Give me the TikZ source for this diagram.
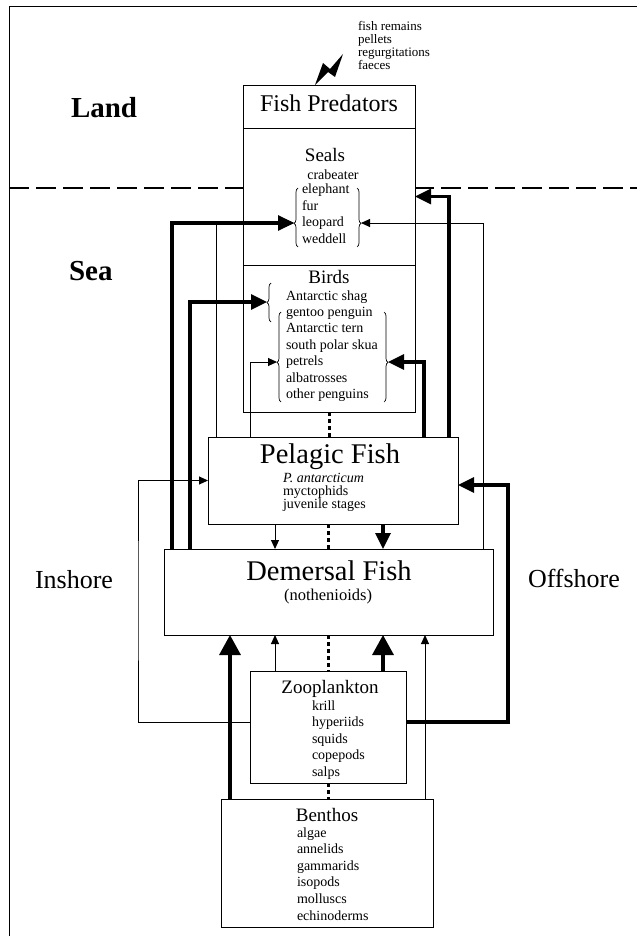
\documentclass[tikz,border=0pt]{standalone}
\usepackage{fontspec}
\setmainfont{Liberation Serif}
\usetikzlibrary{arrows.meta,decorations.pathreplacing,positioning}

\tikzset{
  box/.style={draw, line width=0.9pt, fill=white, inner sep=0pt, outer sep=0pt},
  txt/.style={inner sep=0pt, outer sep=0pt},
  zonetxt/.style={txt, font=\fontsize{29}{32}\selectfont\bfseries},
  sidetxt/.style={txt, font=\fontsize{26}{28}\selectfont},
  bigtitle/.style={txt, font=\fontsize{28.5}{30}\selectfont},
  subtitle/.style={txt, font=\fontsize{19}{21}\selectfont},
  itemtxt/.style={txt, font=\fontsize{14}{16}\selectfont},
  thinflow/.style={line width=1pt, -{Triangle[length=9pt,width=8pt]}},
  thickflow/.style={line width=3.3pt, -{Triangle[length=16pt,width=15pt]}},
  bigflow/.style={line width=3.4pt, -{Triangle[length=20pt,width=21pt]}},
  grp/.style={decorate, decoration={brace, amplitude=4pt, aspect=#1}, line width=0.7pt},
  grp/.default=0.5,
  dotlink/.style={line width=3pt, dash pattern=on 4pt off 3pt},
  shoreline/.style={line width=2pt, dash pattern=on 20pt off 7pt}
}

\begin{document}
\begin{tikzpicture}[x=1pt,y=-1pt]
\useasboundingbox (0,0) rectangle (637,936);

% frame and shore line
\draw[line width=1pt] (9,936) -- (9,7) -- (637,7);
\draw[shoreline] (9,188) -- (637,188);

% compartments
\node[box, anchor=north west, minimum width=172pt, minimum height=43pt] (pred) at (243,85) {};
\node[box, below=0pt of pred, minimum width=172pt, minimum height=137pt] (seals) {};
\node[box, below=0pt of seals, minimum width=172pt, minimum height=147pt] (birds) {};
\node[box, anchor=north west, minimum width=250pt, minimum height=87pt] (pelagic) at (208,437) {};
\node[box, anchor=north west, minimum width=329pt, minimum height=86pt] (demersal) at (164,549) {};
\node[box, anchor=north west, minimum width=156pt, minimum height=112pt] (zoo) at (250,671) {};
\node[box, anchor=north west, minimum width=212pt, minimum height=128pt] (benthos) at (221,799) {};

% dotted links
\draw[dotlink] (birds.south) -- (birds.south |- pelagic.north);
\draw[dotlink] (demersal.north |- pelagic.south) -- (demersal.north);
\draw[dotlink] (demersal.south) -- (demersal.south |- zoo.north);
\draw[dotlink] (zoo.south) -- (zoo.south |- benthos.north);

% zone labels
\node[zonetxt, anchor=base west] (land) at (71,118) {Land};
\node[zonetxt, anchor=base west] (sea) at (69,280) {Sea};
\node[sidetxt, anchor=base west] (inshoretxt) at (35,588) {Inshore};
\node[sidetxt, anchor=base west] (offshoretxt) at (528,587) {Offshore};

% predators
\node[txt, font=\fontsize{24}{26}\selectfont, anchor=base] (predtxt) at (329,112) {Fish Predators};
\fill (315,85) -- (323,63) -- (330,69) -- (343,54) -- (335,77) -- (328,72) -- cycle;
\foreach \s [count=\i] in {fish remains,pellets,regurgitations,faeces}
  \node[txt, font=\fontsize{13}{14}\selectfont, anchor=base west] (rem\i) at (358,{17.8+12.9*\i}) {\s};

\node[subtitle, anchor=base] (sealstxt) at (325,162) {Seals};
\node[itemtxt, anchor=base] (crab) at (333,179) {crabeater};
\foreach \s [count=\i] in {elephant,fur,leopard,weddell}
  \node[itemtxt, anchor=base west] (seal\i) at (302,{177+16.5*\i}) {\s};
\draw[grp=0.4] (298,247) -- (298,188);
\draw[grp=0.6] (357,188) -- (357,247);
\coordinate (sealsL) at (294,223);
\coordinate (sealsR) at (361,223);

\node[subtitle, anchor=base] (birdstxt) at (329,283) {Birds};
\foreach \s [count=\i] in {Antarctic shag,gentoo penguin,Antarctic tern,south polar skua,petrels,albatrosses,other penguins}
  \node[itemtxt, anchor=base west] (bird\i) at (286,{283.6+16.4*\i}) {\s};
\draw[grp=0.5] (271,322) -- (271,283);
\draw[grp=0.44] (281,402) -- (281,312);
\draw[grp=0.56] (384,312) -- (384,402);
\coordinate (shagL) at (267,302);
\coordinate (birdsL) at (277,362);
\coordinate (birdsR) at (388,362);

% fish
\node[bigtitle, anchor=base] (pelagictxt) at (330,463) {Pelagic Fish};
\foreach \s [count=\i] in {\textit{P. antarcticum},myctophids,juvenile stages}
  \node[itemtxt, anchor=base west] (pel\i) at (283,{469+13*\i}) {\s};
\node[bigtitle, anchor=base] (demersaltxt) at (329,580) {Demersal Fish};
\node[txt, font=\fontsize{16.5}{18}\selectfont, anchor=base] (noto) at (328,600) {(nothenioids)};

% prey
\node[subtitle, anchor=base] (zootxt) at (330,693) {Zooplankton};
\foreach \s [count=\i] in {krill,hyperiids,squids,copepods,salps}
  \node[itemtxt, anchor=base west] (zoo\i) at (312,{693.4+16.6*\i}) {\s};
\node[subtitle, anchor=base] (benthostxt) at (327,821) {Benthos};
\foreach \s [count=\i] in {algae,annelids,gammarids,isopods,molluscs,echinoderms}
  \node[itemtxt, anchor=base west] (ben\i) at (297,{820.4+16.6*\i}) {\s};

% flows to predators
\draw[thinflow] ([xshift=8pt]pelagic.north west) |- (sealsL);
\draw[thickflow] ([xshift=8pt]demersal.north west) |- (sealsL);
\draw[thickflow] ([xshift=26pt]demersal.north west) |- (shagL);
\draw[thinflow] ([xshift=42pt]pelagic.north west) |- (birdsL);
\draw[thickflow] ([xshift=-34pt]pelagic.north east) |- (birdsR);
\draw[thickflow] ([xshift=-9pt]pelagic.north east) |- (seals.east);
\draw[thinflow] ([xshift=-10pt]demersal.north east) |- (sealsR);

% flows between fish
\draw[thinflow] ([xshift=67pt]pelagic.south west) -- ([xshift=67pt]pelagic.south west |- demersal.north);
\draw[thickflow] ([xshift=175pt]pelagic.south west) -- ([xshift=175pt]pelagic.south west |- demersal.north);

% flows from prey
\coordinate (inshore) at (138,600);
\coordinate (offshore) at (508,600);
\draw[thinflow] ([yshift=5pt]zoo.west) -| (inshore) |- (pelagic.west);
\draw[thickflow] ([yshift=5pt]zoo.east) -| (offshore) |- ([yshift=-4.5pt]pelagic.east);
\draw[thinflow] ([xshift=25pt]zoo.north west) -- ([xshift=25pt]zoo.north west |- demersal.south);
\draw[bigflow] ([xshift=-23pt]zoo.north east) -- ([xshift=-23pt]zoo.north east |- demersal.south);
\draw[bigflow] ([xshift=9pt]benthos.north west) -- ([xshift=9pt]benthos.north west |- demersal.south);
\draw[thinflow] ([xshift=-8pt]benthos.north east) -- ([xshift=-8pt]benthos.north east |- demersal.south);
\end{tikzpicture}
\end{document}
